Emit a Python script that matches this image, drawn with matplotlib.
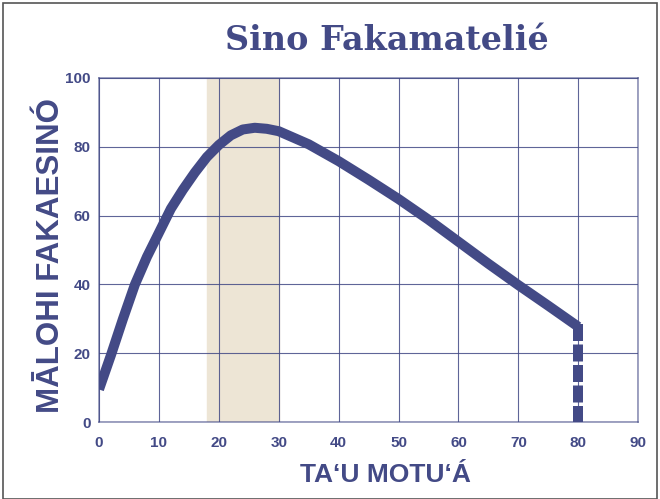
import numpy as np
import matplotlib.pyplot as plt
from matplotlib.patches import Rectangle

# values
age = [0, 2, 4, 6, 8, 10, 12, 14, 16, 18, 20, 22, 24, 26, 28, 30,
       35, 40, 45, 50, 55, 60, 65, 70, 75, 80]
strength = [9.5, 19.5, 30, 40, 48, 55, 62, 67.5, 72.5, 77, 80.5, 83.3, 85, 85.5, 85.2, 84.5,
            80.7, 75.8, 70.4, 64.8, 58.8, 52.4, 46, 39.8, 33.8, 27.7]
peak_band = [18, 30]
x_ticks = [0, 10, 20, 30, 40, 50, 60, 70, 80, 90]
y_ticks = [0, 20, 40, 60, 80, 100]

navy = '#434a86'

fig = plt.figure(figsize=(6.6, 4.99), dpi=100)
ax = fig.add_axes([0.150, 0.154, 0.817, 0.690])

ax.axvspan(peak_band[0], peak_band[1], color='#ede5d5', zorder=0)
ax.plot(age, strength, color=navy, lw=7.2, solid_capstyle='butt', solid_joinstyle='round', zorder=3)
ax.plot([age[-1], age[-1]], [strength[-1] + 0.8, 0], color=navy, lw=7.2,
        linestyle=(0, (1.7, 0.35)), dash_capstyle='butt', zorder=3)

ax.set_xlim(0, 90)
ax.set_ylim(0, 100)
ax.set_xticks(x_ticks)
ax.set_yticks(y_ticks)
ax.grid(True, color=navy, lw=0.8, alpha=0.85)
ax.set_axisbelow(True)
for s in ax.spines.values():
    s.set_color(navy)
    s.set_alpha(0.6)
    s.set_linewidth(1.2)
ax.tick_params(length=0, colors=navy)
ax.tick_params(axis='x', pad=10)
ax.tick_params(axis='y', pad=6)
for lbl in ax.get_xticklabels() + ax.get_yticklabels():
    lbl.set_fontfamily('Liberation Sans')
    lbl.set_fontweight('bold')
    lbl.set_fontsize(11)

ax.set_xlabel('TA‘U MOTU‘Á', fontsize=19, fontweight='bold', color=navy,
              fontfamily='Liberation Sans')
ax.xaxis.set_label_coords(0.532, -0.118)
ax.set_ylabel('MĀLOHI FAKAESINÓ', fontsize=22.5, fontweight='bold', color=navy,
              fontfamily='Liberation Sans')
ax.yaxis.set_label_coords(-0.062, 0.485)

fig.text(0.586, 0.918, 'Sino Fakamatelié', ha='center', va='center', fontsize=24,
         fontweight='bold', color=navy, fontfamily='DejaVu Serif')

fig.patches.append(Rectangle((0.004, 0.0), 0.992, 0.994, transform=fig.transFigure,
                             fill=False, edgecolor='#555555', lw=1.2))

plt.savefig('out.png', dpi=100)
